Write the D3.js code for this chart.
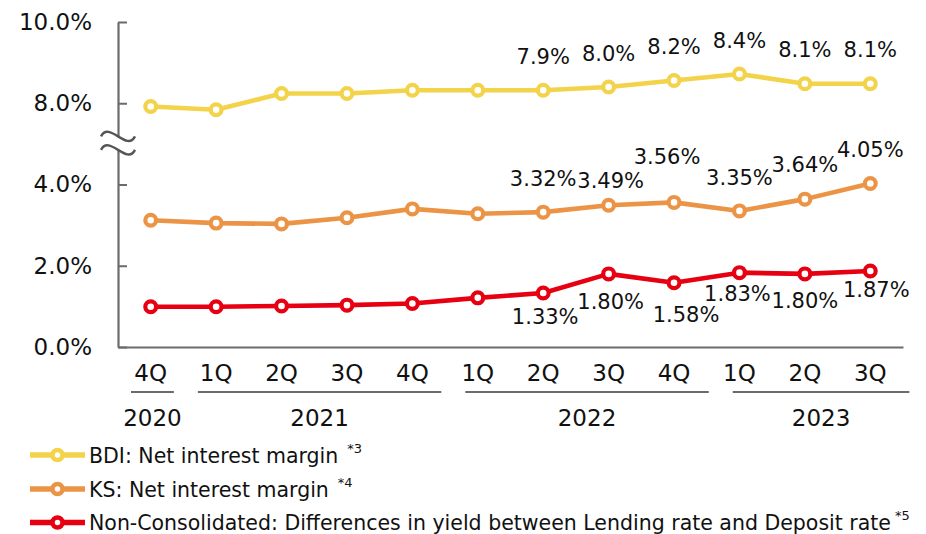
<!DOCTYPE html>
<html>
<head>
<meta charset="utf-8">
<script src="https://cdn.jsdelivr.net/npm/d3@7"></script>
<style>
  html, body { margin: 0; padding: 0; background: #fff; }
  svg { display: block; font-family: "DejaVu Sans", Verdana, sans-serif; }
</style>
</head>
<body>
<svg id="chart" width="926" height="534"></svg>
<script>
// Quarter labels along the x axis and the fiscal years they belong to
const quarters = ["4Q", "1Q", "2Q", "3Q", "4Q", "1Q", "2Q", "3Q", "4Q", "1Q", "2Q", "3Q"];
const years = ["2020", "2021", "2022", "2023"];
const yearFirstQuarter = [0, 1, 5, 9];
const yearLastQuarter = [0, 4, 8, 11];

// Series values (%)
const bdiMargin = [7.4, 7.3, 7.8, 7.8, 7.9, 7.9, 7.9, 8.0, 8.2, 8.4, 8.1, 8.1];
const ksMargin = [3.12, 3.05, 3.03, 3.18, 3.40, 3.28, 3.32, 3.49, 3.56, 3.35, 3.64, 4.05];
const nonConsSpread = [0.99, 0.99, 1.01, 1.03, 1.07, 1.21, 1.33, 1.80, 1.58, 1.83, 1.80, 1.87];

// Value labels are shown from this quarter onwards
const firstLabelled = 6;

// Left axis ticks (the 4%–8% stretch is collapsed behind a break mark)
const yTicks = [0, 2, 4, 8, 10];

const legendLabels = [
  "BDI: Net interest margin",
  "KS: Net interest margin",
  "Non-Consolidated: Differences in yield between Lending rate and Deposit rate"
];
const legendNotes = ["*3", "*4", "*5"];

// ---- layout ----
const svg = d3.select("#chart");
const plotLeft = 118, plotRight = 903, plotTop = 22, plotBottom = 347;
const step = (plotBottom - plotTop) / 4;

const idx = d3.range(quarters.length);
const x = d3.scaleBand().domain(idx).range([plotLeft, plotRight]);
const xc = i => x(i) + x.bandwidth() / 2;

// Broken left axis: 0–4% and 8–10% share the same spacing per 2%
const y = d3.scaleLinear()
  .domain([0, 4, 8, 10])
  .range([plotBottom, plotBottom - 2 * step, plotBottom - 3 * step, plotTop]);

// BDI is plotted on its own 0–10% scale spanning the full plot height
const yBdi = d3.scaleLinear().domain([0, 10]).range([plotBottom, plotTop]);

const colors = { bdi: "#F3D34A", ks: "#EC9445", red: "#E60012" };
const axisColor = "#6b6b6b";

// ---- axes ----
const yAxis = d3.axisLeft(y)
  .tickValues(yTicks)
  .tickFormat(d => d.toFixed(1) + "%")
  .tickSizeInner(-9)
  .tickSizeOuter(0)
  .tickPadding(26);

const gy = svg.append("g").attr("transform", `translate(${plotLeft},0)`).call(yAxis);
gy.selectAll("text").attr("font-size", 23).attr("font-family", "DejaVu Sans").attr("fill", "#111");
gy.selectAll("line").attr("stroke", axisColor).attr("stroke-width", 2);
gy.select(".domain").attr("stroke", axisColor).attr("stroke-width", 2.2);

const xAxis = d3.axisBottom(x)
  .tickFormat(i => quarters[i])
  .tickSize(0)
  .tickSizeOuter(0)
  .tickPadding(18);

const gx = svg.append("g").attr("transform", `translate(0,${plotBottom})`).call(xAxis);
gx.selectAll("text").attr("font-size", 23).attr("font-family", "DejaVu Sans").attr("fill", "#111");
gx.select(".domain").attr("stroke", axisColor).attr("stroke-width", 2.2);

// Year group underlines and year labels
const groupGrid = d3.scaleBand().domain(idx).range([plotLeft, plotLeft + 12 * 66.86]);
const yearsG = svg.append("g");
years.forEach((yr, k) => {
  const x0 = groupGrid(yearFirstQuarter[k]) + 13;
  const x1 = groupGrid(yearLastQuarter[k]) + groupGrid.bandwidth() - 11;
  yearsG.append("line")
    .attr("x1", x0).attr("x2", x1).attr("y1", 392).attr("y2", 392)
    .attr("stroke", axisColor).attr("stroke-width", 2);
  yearsG.append("text")
    .attr("x", (x0 + x1) / 2).attr("y", 426)
    .attr("text-anchor", "middle")
    .attr("font-size", 23).attr("fill", "#111")
    .text(yr);
});

// Axis break mark between 4% and 8%
const yb = y(6);
const tilde = "M-17,0 C-9,-16 9,16 17,0";
svg.append("rect")
  .attr("x", plotLeft - 6).attr("y", yb - 7).attr("width", 12).attr("height", 14)
  .attr("fill", "#fff");
[yb - 7.5, yb + 6].forEach(yy => {
  svg.append("path")
    .attr("d", tilde)
    .attr("transform", `translate(${plotLeft},${yy})`)
    .attr("fill", "none")
    .attr("stroke", "#555")
    .attr("stroke-width", 2.4);
});

// ---- series ----
const series = [
  { key: "bdi", values: bdiMargin, scale: yBdi, color: colors.bdi, fmt: d => d.toFixed(1) + "%",
    nudge: [null, null, null, null, null, null, [0, -26.5], [0, -26.5], [0, -26.5], [0, -26.5], [0, -26.5], [0, -26.5]] },
  { key: "ks", values: ksMargin, scale: y, color: colors.ks, fmt: d => d.toFixed(2) + "%",
    nudge: [null, null, null, null, null, null, [0, -26.5], [2, -17], [-7, -38.5], [0, -25.5], [0, -27], [0, -26]] },
  { key: "red", values: nonConsSpread, scale: y, color: colors.red, fmt: d => d.toFixed(2) + "%",
    nudge: [null, null, null, null, null, null, [2, 31.5], [2, 35], [12, 39.5], [-2, 28.5], [0, 34.5], [6, 26]] }
];

series.forEach(s => {
  const line = d3.line().x((d, i) => xc(i)).y(d => s.scale(d));
  const g = svg.append("g");
  g.append("path")
    .datum(s.values)
    .attr("d", line)
    .attr("fill", "none")
    .attr("stroke", s.color)
    .attr("stroke-width", 4.6)
    .attr("stroke-linejoin", "round");
  g.selectAll("circle")
    .data(s.values)
    .join("circle")
    .attr("cx", (d, i) => xc(i))
    .attr("cy", d => s.scale(d))
    .attr("r", 5.4)
    .attr("fill", "#fff")
    .attr("stroke", s.color)
    .attr("stroke-width", 4.2);
});

// Value labels drawn after all lines so they sit on top
series.forEach(s => {
  svg.append("g").selectAll("text")
    .data(s.values.map((v, i) => ({ v, i })).filter(d => d.i >= firstLabelled))
    .join("text")
    .attr("x", d => xc(d.i) + s.nudge[d.i][0])
    .attr("y", d => s.scale(d.v) + s.nudge[d.i][1])
    .attr("text-anchor", "middle")
    .attr("font-size", 21)
    .attr("fill", "#111")
    .text(d => s.fmt(d.v));
});

// ---- legend ----
const legendColors = [colors.bdi, colors.ks, colors.red];
const legendRowY = [455, 489, 522.5];
const noteGap = [9, 9, 4];
const lg = svg.append("g");
legendLabels.forEach((label, k) => {
  const cy = legendRowY[k];
  lg.append("line")
    .attr("x1", 30).attr("x2", 85).attr("y1", cy).attr("y2", cy)
    .attr("stroke", legendColors[k]).attr("stroke-width", 5.5);
  lg.append("circle")
    .attr("cx", 57.5).attr("cy", cy).attr("r", 5)
    .attr("fill", "#fff").attr("stroke", legendColors[k]).attr("stroke-width", 4.5);
  const t = lg.append("text")
    .attr("x", 89).attr("y", cy + 7.5)
    .attr("font-size", 20.5).attr("fill", "#111")
    .text(label);
  t.append("tspan")
    .attr("dx", noteGap[k]).attr("dy", -10)
    .attr("font-size", 13)
    .text(legendNotes[k]);
});
</script>
</body>
</html>
